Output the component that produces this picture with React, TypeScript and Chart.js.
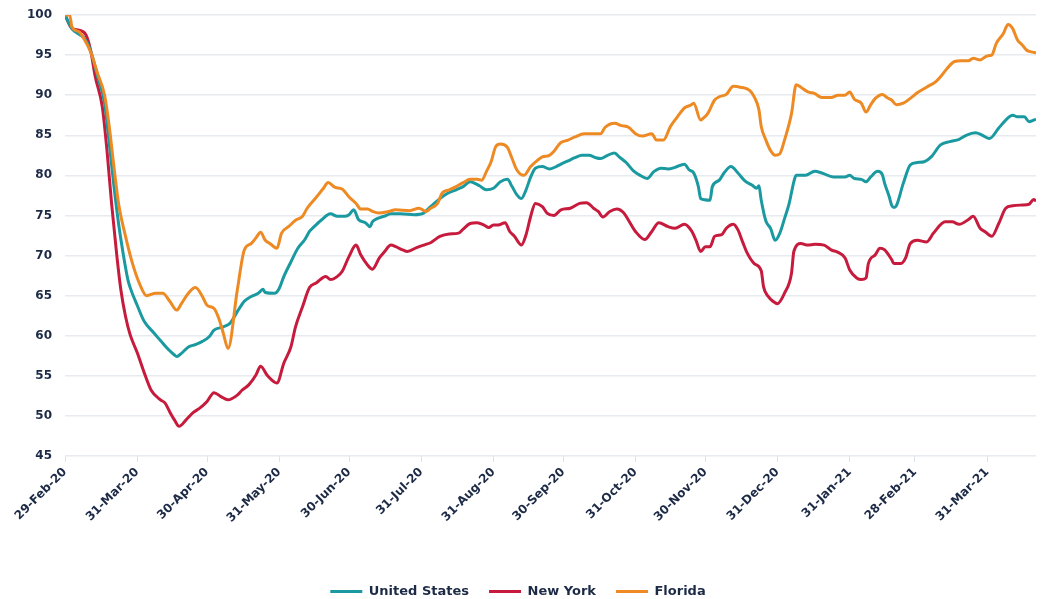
import { useEffect, useRef } from "react";
import { Chart, registerables } from "chart.js";

Chart.register(...registerables);

// x positions are days counted from 29-Feb-2020
const TICK_DAYS = [0, 31, 61, 92, 122, 153, 184, 214, 245, 275, 306, 337, 365, 396];
const TICK_LABELS = [
  "29-Feb-20", "31-Mar-20", "30-Apr-20", "31-May-20", "30-Jun-20", "31-Jul-20",
  "31-Aug-20", "30-Sep-20", "31-Oct-20", "30-Nov-20", "31-Dec-20", "31-Jan-21",
  "28-Feb-21", "31-Mar-21",
];
const Y_MIN = 45;
const Y_MAX = 100;
const X_MAX = 417;

const SERIES_NAMES = ["United States", "New York", "Florida"];

const US_DAYS = [0, 3, 4, 6, 8, 10, 11, 12, 14, 17, 19, 21, 23, 25, 27, 28, 31, 34, 38, 41, 44, 47, 48, 50, 53, 56, 59, 62, 64, 68, 71, 74, 77, 80, 83, 85, 86, 90, 92, 94, 97, 100, 103, 105, 107, 110, 114, 117, 120, 122, 124, 126, 129, 131, 132, 134, 137, 140, 144, 150, 154, 157, 161, 164, 168, 171, 174, 176, 178, 181, 184, 187, 190, 192, 194, 196, 198, 200, 202, 205, 208, 211, 213, 216, 219, 222, 225, 228, 230, 233, 236, 238, 241, 244, 247, 250, 253, 256, 259, 262, 266, 268, 270, 272, 273, 277, 278, 281, 283, 286, 289, 292, 295, 297, 298, 299, 301, 303, 305, 307, 309, 311, 313, 314, 318, 322, 325, 330, 335, 337, 339, 342, 344, 346, 349, 351, 352, 354, 355, 356, 357, 360, 363, 366, 369, 372, 376, 380, 384, 387, 391, 394, 397, 401, 404, 407, 409, 412, 414, 417];
const US_VALUES = [100, 98.3, 98.0, 97.6, 97.2, 96.3, 95.5, 94.6, 92.3, 89.0, 84.0, 78.7, 74.0, 70.2, 67.0, 66.0, 63.8, 61.8, 60.4, 59.4, 58.4, 57.6, 57.4, 57.8, 58.6, 58.9, 59.3, 59.9, 60.7, 61.1, 61.6, 63.0, 64.3, 64.9, 65.3, 65.8, 65.4, 65.3, 65.9, 67.4, 69.2, 70.9, 72.0, 73.0, 73.6, 74.4, 75.2, 74.9, 74.9, 75.1, 75.7, 74.5, 74.1, 73.6, 74.2, 74.6, 74.9, 75.2, 75.2, 75.1, 75.3, 76.1, 77.1, 77.7, 78.2, 78.6, 79.2, 79.0, 78.7, 78.2, 78.4, 79.2, 79.5, 78.6, 77.6, 77.1, 78.2, 79.8, 80.9, 81.1, 80.8, 81.1, 81.4, 81.8, 82.2, 82.5, 82.5, 82.2, 82.1, 82.5, 82.8, 82.3, 81.6, 80.6, 80.0, 79.6, 80.5, 80.9, 80.8, 81.0, 81.4, 80.7, 80.3, 78.6, 77.1, 76.9, 78.6, 79.4, 80.3, 81.1, 80.3, 79.3, 78.8, 78.4, 78.7, 76.9, 74.3, 73.4, 71.9, 72.8, 74.6, 76.5, 79.2, 80.0, 80.0, 80.5, 80.3, 79.8, 79.8, 80.0, 79.6, 79.5, 79.2, 79.8, 80.5, 80.1, 79.0, 77.3, 76.3, 76.0, 76.2, 79.0, 81.3, 81.6, 81.7, 82.3, 83.8, 84.2, 84.5, 85.0, 85.3, 85.0, 84.6, 85.9, 86.9, 87.5, 87.3, 87.3, 86.7, 87.0];

const NY_DAYS = [0, 3, 6, 9, 11, 13, 16, 18, 20, 22, 24, 26, 28, 31, 34, 37, 41, 43, 45, 47, 49, 52, 55, 58, 61, 64, 67, 70, 74, 76, 79, 82, 84, 87, 91, 94, 97, 99, 102, 105, 108, 112, 114, 117, 119, 122, 125, 127, 130, 132, 135, 137, 140, 142, 145, 147, 151, 155, 157, 161, 165, 169, 171, 174, 177, 180, 182, 184, 186, 189, 191, 193, 196, 198, 200, 202, 205, 207, 210, 213, 217, 221, 224, 227, 229, 231, 234, 237, 240, 242, 245, 249, 252, 255, 259, 262, 266, 269, 271, 273, 275, 277, 279, 282, 284, 287, 289, 291, 293, 296, 299, 300, 302, 304, 306, 309, 312, 313, 316, 319, 322, 326, 329, 332, 335, 337, 340, 342, 344, 345, 348, 350, 352, 355, 356, 359, 361, 363, 366, 370, 373, 378, 381, 384, 388, 390, 393, 395, 398, 401, 404, 407, 411, 414, 416, 417];
const NY_VALUES = [100, 98.3, 98.1, 97.5, 95.6, 92.3, 88.6, 83.2, 76.5, 70.7, 65.7, 62.4, 60.1, 57.9, 55.4, 53.2, 52.0, 51.6, 50.5, 49.5, 48.7, 49.5, 50.4, 51.0, 51.8, 52.9, 52.4, 52.0, 52.6, 53.2, 53.9, 55.1, 56.2, 55.0, 54.1, 56.6, 58.6, 61.1, 63.6, 66.0, 66.6, 67.4, 67.0, 67.4, 68.0, 69.9, 71.3, 70.1, 68.8, 68.3, 69.7, 70.4, 71.3, 71.1, 70.7, 70.5, 71.0, 71.4, 71.6, 72.4, 72.7, 72.8, 73.3, 74.0, 74.1, 73.8, 73.5, 73.8, 73.8, 74.1, 73.0, 72.4, 71.3, 72.6, 74.9, 76.5, 76.1, 75.3, 75.0, 75.7, 75.9, 76.5, 76.6, 75.9, 75.5, 74.8, 75.5, 75.8, 75.3, 74.4, 73.0, 72.0, 73.0, 74.1, 73.6, 73.4, 73.9, 73.1, 71.9, 70.5, 71.1, 71.1, 72.4, 72.6, 73.4, 73.9, 73.2, 71.7, 70.3, 69.0, 68.1, 66.1, 64.9, 64.3, 64.0, 65.3, 67.8, 70.5, 71.5, 71.3, 71.4, 71.3, 70.7, 70.4, 69.7, 68.2, 67.2, 67.0, 67.2, 69.0, 70.1, 70.9, 70.7, 69.5, 69.0, 69.0, 69.7, 71.5, 71.9, 71.7, 72.8, 74.2, 74.2, 73.9, 74.5, 74.9, 73.4, 73.0, 72.4, 74.0, 75.9, 76.2, 76.3, 76.4, 77.0, 76.8];

const FL_DAYS = [0, 2, 3, 6, 8, 11, 14, 17, 19, 21, 23, 26, 29, 32, 35, 39, 42, 45, 48, 50, 53, 56, 59, 61, 64, 66, 68, 70, 74, 77, 80, 82, 84, 86, 88, 91, 93, 96, 99, 102, 104, 108, 111, 113, 116, 119, 122, 125, 127, 130, 132, 135, 139, 142, 148, 152, 155, 157, 160, 162, 165, 168, 171, 174, 177, 179, 181, 183, 185, 187, 190, 192, 194, 197, 200, 203, 205, 208, 210, 212, 213, 216, 219, 223, 226, 230, 232, 236, 239, 242, 245, 248, 252, 254, 257, 260, 263, 266, 269, 270, 273, 274, 276, 279, 281, 284, 287, 290, 294, 296, 298, 299, 301, 303, 305, 307, 309, 312, 314, 316, 319, 322, 325, 329, 332, 335, 337, 339, 342, 344, 346, 348, 351, 353, 355, 357, 360, 363, 366, 370, 374, 376, 379, 382, 385, 388, 390, 393, 396, 398, 400, 403, 405, 407, 409, 411, 413, 415, 417];
const FL_VALUES = [100, 100, 98.5, 97.9, 97.1, 95.4, 92.7, 90.0, 86.1, 81.1, 76.5, 72.4, 69.0, 66.5, 65.0, 65.3, 65.3, 64.3, 63.2, 64.0, 65.3, 66.0, 64.9, 63.8, 63.4, 62.2, 60.3, 58.4, 65.7, 70.7, 71.5, 72.2, 72.9, 71.9, 71.5, 70.9, 72.8, 73.6, 74.4, 74.9, 75.9, 77.3, 78.4, 79.1, 78.5, 78.3, 77.3, 76.5, 75.8, 75.8, 75.5, 75.3, 75.5, 75.7, 75.6, 75.9, 75.5, 75.9, 76.5, 77.8, 78.2, 78.6, 79.1, 79.5, 79.5, 79.4, 80.5, 81.7, 83.6, 83.9, 83.5, 82.1, 80.7, 80.0, 81.1, 81.9, 82.3, 82.5, 83.0, 83.8, 84.1, 84.4, 84.8, 85.2, 85.2, 85.2, 86.0, 86.5, 86.2, 86.0, 85.2, 84.9, 85.2, 84.4, 84.4, 86.1, 87.3, 88.4, 88.8, 89.0, 86.9, 87.1, 87.7, 89.4, 89.8, 90.1, 91.1, 91.0, 90.6, 89.8, 88.2, 86.1, 84.4, 83.1, 82.5, 82.7, 84.4, 87.7, 91.3, 91.0, 90.4, 90.2, 89.7, 89.7, 90.0, 90.0, 90.4, 89.5, 89.0, 87.9, 88.8, 89.6, 90.1, 89.7, 89.4, 88.8, 89.0, 89.6, 90.3, 91.0, 91.7, 92.3, 93.4, 94.2, 94.3, 94.3, 94.6, 94.4, 94.9, 95.0, 96.5, 97.7, 98.8, 98.3, 96.9, 96.3, 95.6, 95.4, 95.3];

const COLORS = ["#1a9aa0", "#c61b3d", "#ee8a23"];
const TEXT_COLOR = "#1c2a46";
const FONT_FAMILY = "'DejaVu Sans', 'Open Sans', sans-serif";

const toPoints = (days: number[], values: number[]) =>
  days.map((d, i) => ({ x: d, y: values[i] }));

export default function App() {
  const canvasRef = useRef<HTMLCanvasElement | null>(null);

  useEffect(() => {
    const canvas = canvasRef.current;
    if (!canvas) return;
    const seriesData = [
      toPoints(US_DAYS, US_VALUES),
      toPoints(NY_DAYS, NY_VALUES),
      toPoints(FL_DAYS, FL_VALUES),
    ];
    const drawOrder = [1, 2, 0];
    const chart = new Chart(canvas, {
      type: "line",
      data: {
        datasets: SERIES_NAMES.map((name, i) => ({
          label: name,
          data: seriesData[i],
          borderColor: COLORS[i],
          backgroundColor: COLORS[i],
          borderWidth: 3,
          pointRadius: 0,
          pointHoverRadius: 0,
          fill: false,
          cubicInterpolationMode: "monotone" as const,
          order: drawOrder[i],
        })),
      },
      options: {
        responsive: false,
        animation: false,
        devicePixelRatio: 1,
        layout: { padding: { left: 0, right: 8, top: 15, bottom: 0 } },
        plugins: {
          tooltip: { enabled: false },
          legend: {
            display: true,
            position: "bottom",
            labels: {
              color: TEXT_COLOR,
              font: { family: FONT_FAMILY, size: 13, weight: "bold" },
              boxWidth: 32,
              boxHeight: 3,
              padding: 20,
              sort: (a: any, b: any) => a.datasetIndex - b.datasetIndex,
              generateLabels: (ch: any) => {
                const items = (Chart.defaults as any).plugins.legend.labels.generateLabels(ch);
                return items.map((it: any) => ({
                  ...it,
                  lineWidth: 0,
                  fillStyle: COLORS[it.datasetIndex],
                  strokeStyle: COLORS[it.datasetIndex],
                }));
              },
            },
          },
        },
        scales: {
          x: {
            type: "linear",
            min: 0,
            max: X_MAX,
            afterBuildTicks: (scale: any) => {
              scale.ticks = TICK_DAYS.map((v) => ({ value: v }));
            },
            afterFit: (scale: any) => {
              scale.height = 109;
            },
            ticks: {
              autoSkip: false,
              minRotation: 45,
              maxRotation: 45,
              padding: 3,
              color: TEXT_COLOR,
              font: { family: FONT_FAMILY, size: 12, weight: "bold" },
              callback: (value: any) => {
                const i = TICK_DAYS.indexOf(Number(value));
                return i >= 0 ? TICK_LABELS[i] : "";
              },
            },
            grid: {
              display: true,
              drawOnChartArea: false,
              drawTicks: true,
              tickLength: 6,
              color: "#dde3ea",
              lineWidth: 1,
            },
            border: { display: false },
          },
          y: {
            min: Y_MIN,
            max: Y_MAX,
            afterFit: (scale: any) => {
              scale.width = 65;
            },
            ticks: {
              stepSize: 5,
              padding: 3,
              color: TEXT_COLOR,
              font: { family: FONT_FAMILY, size: 12, weight: "bold" },
            },
            grid: {
              color: "#e7eaee",
              lineWidth: 1.5,
              drawTicks: true,
              tickLength: 10,
              tickColor: "rgba(0,0,0,0)",
            },
            border: { display: false },
          },
        },
      },
    });
    return () => chart.destroy();
  }, []);

  return (
    <div style={{ position: "absolute", left: 0, top: 0, width: 1044, height: 608, background: "#ffffff" }}>
      <canvas ref={canvasRef} width={1044} height={608} style={{ display: "block" }} />
    </div>
  );
}
